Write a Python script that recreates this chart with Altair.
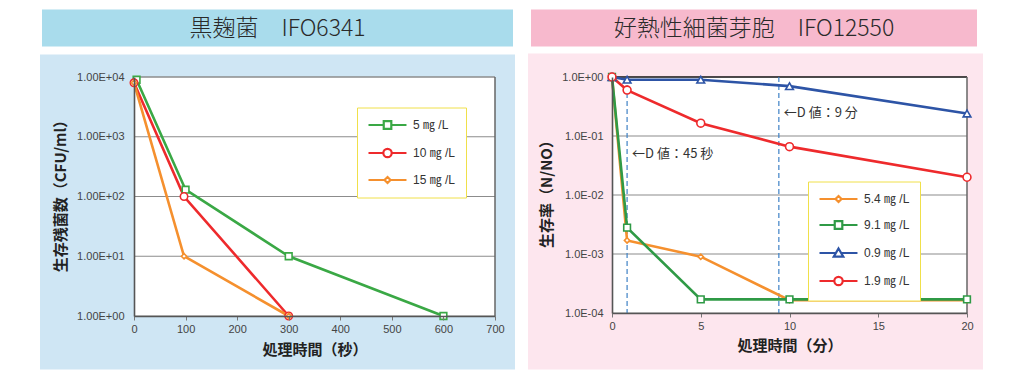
import altair as alt
import pandas as pd

# ---------------- data: left panel (黒麹菌) ----------------
L_SERIES = ["5 ㎎ /L", "10 ㎎ /L", "15 ㎎ /L"]
L_COLORS = ["#3aa845", "#ee2a2c", "#f5902e"]
L_SHAPES = ["square", "circle", "diamond"]
L_SIZES = [45, 55, 28]
L5_X = [5, 100, 300, 600]
L5_Y = [9000, 130, 10, 1]
L10_X = [0, 97, 300]
L10_Y = [8000, 100, 1]
L15_X = [0, 97, 300]
L15_Y = [8000, 10, 1]
L_XTICKS = [0, 100, 200, 300, 400, 500, 600, 700]
L_YTICKS = [1, 10, 100, 1000, 10000]

# ---------------- data: right panel (好熱性細菌芽胞) ----------------
R_SERIES = ["5.4 ㎎ /L", "9.1 ㎎ /L", "0.9 ㎎ /L", "1.9 ㎎ /L"]
R_COLORS = ["#f5902e", "#2f9a46", "#2d54a6", "#ee2a2c"]
R_SHAPES = ["diamond", "square", "triangle-up", "circle"]
R_SIZES = [28, 45, 60, 62]
R_X = [0, 0.85, 5, 10, 20]
R54_Y = [1, 1.7e-3, 9e-4, 1.65e-4, 1.65e-4]
R91_Y = [1, 2.8e-3, 1.7e-4, 1.7e-4, 1.7e-4]
R09_Y = [1, 0.9, 0.9, 0.7, 0.24]
R19_Y = [1, 0.6, 0.165, 0.066, 0.02]
R_XTICKS = [0, 5, 10, 15, 20]
R_YTICKS = [1e-4, 1e-3, 1e-2, 1e-1, 1]
D_X = [0.85, 9.4]
D_TEXT = ["←D 値：45 秒", "←D 値：9 分"]
D_TEXT_Y = [0.049, 0.25]

LEFT_TITLE = "黒麹菌　IFO6341"
RIGHT_TITLE = "好熱性細菌芽胞　IFO12550"

CJK = "Noto Sans CJK JP"
LAT = "Liberation Sans, Noto Sans CJK JP"

# legend symbols: a 38px line with the marker in its middle (unit = 6px)
P_SQUARE = "M-1,0H1.54M2.8,0H5.33M1.54,-0.63H2.8V0.63H1.54Z"
P_CIRCLE = "M-1,0H1.47M2.87,0H5.33M1.47,0A0.7,0.7,0,1,0,2.87,0A0.7,0.7,0,1,0,1.47,0Z"
P_DIAMOND = "M-1,0H1.67M2.67,0H5.33M1.67,0L2.17,-0.5L2.67,0L2.17,0.5Z"
P_TRI = "M-1,0H1.73M2.61,0H5.33M2.17,-0.75L2.97,0.62L1.37,0.62Z"


def series_df(names, xs_list, ys_list):
    rows = []
    for n, xs, ys in zip(names, xs_list, ys_list):
        for x, y in zip(xs, ys):
            rows.append({"s": n, "x": x, "y": y})
    return pd.DataFrame(rows)


def deco_rect(color, x1, x2, y1, y2):
    return alt.Chart(pd.DataFrame({"k": [0]})).mark_rect(color=color).encode(
        x=alt.value(x1), x2=alt.value(x2), y=alt.value(y1), y2=alt.value(y2)
    )


def panel(df, series, colors, shapes, sizes, paths, x_enc, y_enc, yticks, xmax,
          width, height, bg, hdr, bg_box, hdr_box, title, legend_xy, top_color,
          extra=None):
    layers = []
    layers.append(deco_rect(bg, *bg_box))
    layers.append(deco_rect(hdr, *hdr_box))
    layers.append(
        alt.Chart(pd.DataFrame({"t": [title]})).mark_text(
            font=CJK, fontSize=23, fontWeight=300, color="#2a2a2a",
            align="center", baseline="middle"
        ).encode(
            x=alt.value((hdr_box[0] + hdr_box[1]) / 2),
            y=alt.value((hdr_box[2] + hdr_box[3]) / 2 + 1),
            text="t:N",
        )
    )
    layers.append(deco_rect("white", 0, width, 0, height))
    grid = pd.DataFrame({"y": yticks[:-1]})
    layers.append(alt.Chart(grid).mark_rule(color="#8c8c8c", strokeWidth=1.2).encode(y=y_enc))
    layers.append(alt.Chart(pd.DataFrame({"y": [yticks[-1]]})).mark_rule(
        color=top_color, strokeWidth=1.4).encode(y=y_enc))
    layers.append(alt.Chart(pd.DataFrame({"x": [xmax]})).mark_rule(
        color="#666", strokeWidth=1.5).encode(x=x_enc))
    if extra is not None:
        layers.extend(extra)
    for s, c in zip(series, colors):
        layers.append(
            alt.Chart(df).transform_filter(alt.datum.s == s).mark_line(
                color=c, strokeWidth=2.6, clip=False
            ).encode(x=x_enc, y=y_enc)
        )
    for s, c, sh, sz in zip(series, colors, shapes, sizes):
        layers.append(
            alt.Chart(df).transform_filter(alt.datum.s == s).mark_point(
                shape=sh, size=sz, color=c, filled=False, fill="white",
                strokeWidth=1.6, opacity=1, clip=False
            ).encode(x=x_enc, y=y_enc)
        )
    leg = alt.Legend(
        title=None, orient="none", legendX=legend_xy[0], legendY=legend_xy[1],
        fillColor="white", strokeColor="#f0e04a", padding=10,
        symbolSize=144, symbolStrokeWidth=2.2, symbolFillColor="white",
        labelFont=LAT, labelFontSize=12, labelColor="#333", labelOffset=31,
        rowPadding=10, symbolOpacity=1,
    )
    layers.append(
        alt.Chart(df).transform_filter("false").mark_point(
            filled=False, fill="white", strokeWidth=2.2, opacity=1
        ).encode(
            x=x_enc, y=y_enc,
            color=alt.Color("s:N", scale=alt.Scale(domain=series, range=colors), legend=leg),
            shape=alt.Shape("s:N", scale=alt.Scale(domain=series, range=paths), legend=leg),
        )
    )
    return alt.layer(*layers).properties(width=width, height=height)


# ---------------- left panel ----------------
LW, LH = 361, 239
ldf = series_df(L_SERIES, [L5_X, L10_X, L15_X], [L5_Y, L10_Y, L15_Y])
lx = alt.X("x:Q", scale=alt.Scale(domain=[0, 700], nice=False, zero=False),
           axis=alt.Axis(values=L_XTICKS, format="d", title="処理時間（秒）", grid=False,
                         tickSize=4, tickColor="#777", domainColor="#555", domainWidth=1.6,
                         labelPadding=3, labelFont=LAT, labelFontSize=11, labelColor="#444",
                         labelFlush=False,
                         titleFont=CJK, titleFontSize=15, titleFontWeight="bold",
                         titleColor="#222", titleY=33, titleBaseline="middle", zindex=1))
ly = alt.Y("y:Q", scale=alt.Scale(type="log", domain=[1, 10000], nice=False),
           axis=alt.Axis(values=L_YTICKS,
                         labelExpr="'1.00E+' + format(round(log(datum.value)/LN10), '02d')",
                         title="生存残菌数（CFU/ml）", grid=False, ticks=False,
                         domainColor="#555", domainWidth=1.6, labelPadding=10,
                         labelFont=LAT, labelFontSize=11, labelColor="#444", labelFlush=False,
                         titleFont=CJK, titleFontSize=15, titleFontWeight="bold",
                         titleColor="#222", titleX=-74, titleY=115, titleAngle=270,
                         titleAlign="center", titleBaseline="middle", zindex=1))
left = panel(ldf, L_SERIES, L_COLORS, L_SHAPES, L_SIZES, [P_SQUARE, P_CIRCLE, P_DIAMOND],
             lx, ly, L_YTICKS, 700, LW, LH, "#cfe6f4", "#a9dcec",
             (-94, 381, -22.5, 292.5), (-92, 379, -67.5, -30.5), LEFT_TITLE,
             (223, 30.5), "#8c8c8c")

# ---------------- right panel ----------------
RW, RH = 355, 236
rdf = series_df(R_SERIES, [R_X, R_X, R_X, R_X], [R54_Y, R91_Y, R09_Y, R19_Y])
rx = alt.X("x:Q", scale=alt.Scale(domain=[0, 20], nice=False, zero=False),
           axis=alt.Axis(values=R_XTICKS, format="d", title="処理時間（分）", grid=False,
                         tickSize=4, tickColor="#777", domainColor="#555", domainWidth=1.6,
                         labelPadding=3, labelFont=LAT, labelFontSize=11, labelColor="#444",
                         labelFlush=False,
                         titleFont=CJK, titleFontSize=15, titleFontWeight="bold",
                         titleColor="#222", titleY=32, titleBaseline="middle", zindex=1))
ry = alt.Y("y:Q", scale=alt.Scale(type="log", domain=[1e-4, 1], nice=False),
           axis=alt.Axis(values=R_YTICKS,
                         labelExpr="'1.0E' + (datum.value < 0.5 ? '-' : '+') + format(abs(round(log(datum.value)/LN10)), '02d')",
                         title="生存率（N/NO）", grid=False, ticks=False,
                         domainColor="#555", domainWidth=1.6, labelPadding=9,
                         labelFont=LAT, labelFontSize=11, labelColor="#444", labelFlush=False,
                         titleFont=CJK, titleFontSize=15, titleFontWeight="bold",
                         titleColor="#222", titleX=-66, titleY=113, titleAngle=270,
                         titleAlign="center", titleBaseline="middle", zindex=1))
ddf = pd.DataFrame({"x": D_X, "y": D_TEXT_Y, "t": D_TEXT})
d_rules = alt.Chart(ddf).mark_rule(color="#3f82c6", strokeWidth=1.2, strokeDash=[5, 3]).encode(x=rx)
d_text = alt.Chart(ddf).mark_text(align="left", baseline="middle", dx=5, font=CJK,
                                  fontSize=13, color="#333").encode(x=rx, y=ry, text="t:N")
right = panel(rdf, R_SERIES, R_COLORS, R_SHAPES, R_SIZES, [P_DIAMOND, P_SQUARE, P_TRI, P_CIRCLE],
              rx, ry, R_YTICKS, 20, RW, RH, "#fde6ee", "#f7b9cd",
              (-84, 371, -23.5, 292.5), (-81, 365, -67.5, -30.5), RIGHT_TITLE,
              (196, 104.5), "#111", extra=[d_rules, d_text])

chart = alt.hconcat(left, right, spacing=13).properties(
    padding={"left": 32, "top": 1, "right": 0, "bottom": 0},
    background="white",
).configure_view(strokeWidth=0).resolve_scale(color="independent", shape="independent")

chart.save("out.html", embed_options={"renderer": "svg", "actions": False})
